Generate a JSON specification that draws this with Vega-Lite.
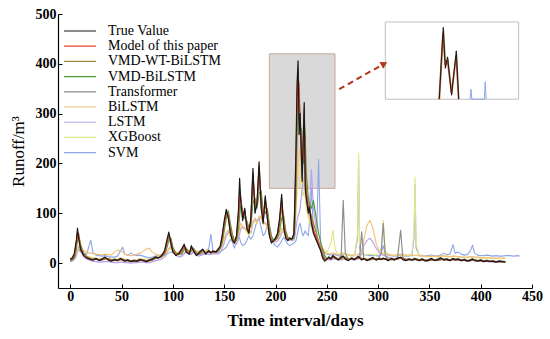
{
  "$schema": "https://vega.github.io/schema/vega-lite/v6.json",
  "width": 474,
  "height": 274,
  "autosize": {"type": "none"},
  "padding": {"left": 58, "top": 14, "right": 18, "bottom": 51},
  "background": "white",
  "config": {
    "view": {"stroke": null},
    "font": "Liberation Serif",
    "axis": {"domainColor": "#000", "tickColor": "#000", "labelColor": "#000", "titleColor": "#000", "grid": false, "labelFont": "Liberation Serif", "titleFont": "Liberation Serif", "domainWidth": 1.2, "tickWidth": 1}
  },
  "datasets": {
    "boxes": [{"t": 194, "t2": 258, "v": 150, "v2": 420}],
    "insetbox": [{"t": 307, "t2": 437, "v": 329, "v2": 484}],
    "arrow": [{"t": 262, "v": 349, "t2": 304, "v2": 398}],
    "head": [{"t": 306, "v": 400}],
    "inset": [
      {"series": "W", "t": 360.1, "v": 329}, {"series": "W", "t": 363.9, "v": 466}, {"series": "W", "t": 366, "v": 395}, {"series": "W", "t": 368.1, "v": 410}, {"series": "W", "t": 372, "v": 340}, {"series": "W", "t": 376.6, "v": 420}, {"series": "W", "t": 378.9, "v": 329},
      {"series": "M", "t": 359.2, "v": 329}, {"series": "M", "t": 362.9, "v": 462}, {"series": "M", "t": 365.1, "v": 398}, {"series": "M", "t": 367.3, "v": 408}, {"series": "M", "t": 371.2, "v": 342}, {"series": "M", "t": 375.8, "v": 416}, {"series": "M", "t": 378.2, "v": 329},
      {"series": "T", "t": 359.6, "v": 329}, {"series": "T", "t": 363.5, "v": 473}, {"series": "T", "t": 365.5, "v": 391}, {"series": "T", "t": 367.7, "v": 414}, {"series": "T", "t": 371.6, "v": 337}, {"series": "T", "t": 376.2, "v": 426}, {"series": "T", "t": 378.5, "v": 329},
      {"series": "S", "t": 389.6, "v": 329}, {"series": "S", "t": 390.5, "v": 349}, {"series": "S", "t": 391.4, "v": 329}, {"series": "S", "t": 403.5, "v": 329}, {"series": "S", "t": 404.4, "v": 364}, {"series": "S", "t": 405.3, "v": 329}
    ],
    "main": [
      {"t":0,"T":8,"M":6,"W":5,"V":4,"Tr":7,"B":5,"L":2,"X":3,"S":5},
      {"t":2,"T":10,"M":9,"W":8,"V":6,"Tr":12,"B":8,"L":4,"X":6,"S":6},
      {"t":4,"T":20,"M":16,"W":14,"V":10,"Tr":18,"B":14,"L":8,"X":10,"S":18},
      {"t":6,"T":48,"M":40,"W":38,"V":30,"Tr":42,"B":22,"L":15,"X":20,"S":22},
      {"t":7,"T":70,"M":62,"W":55,"V":45,"Tr":60,"B":26,"L":22,"X":28,"S":24},
      {"t":8,"T":52,"M":58,"W":60,"V":55,"Tr":50,"B":30,"L":32,"X":35,"S":28},
      {"t":10,"T":28,"M":30,"W":35,"V":38,"Tr":26,"B":28,"L":25,"X":26,"S":22},
      {"t":13,"T":15,"M":17,"W":18,"V":20,"Tr":16,"B":25,"L":12,"X":18,"S":20},
      {"t":16,"T":10,"M":12,"W":12,"V":13,"Tr":11,"B":22,"L":8,"X":14,"S":18},
      {"t":19,"T":8,"M":9,"W":9,"V":10,"Tr":9,"B":20,"L":6,"X":12,"S":40},
      {"t":20,"T":7,"M":8,"W":8,"V":9,"Tr":8,"B":20,"L":5,"X":12,"S":46},
      {"t":22,"T":6,"M":7,"W":7,"V":8,"Tr":7,"B":19,"L":4,"X":11,"S":22},
      {"t":25,"T":9,"M":8,"W":9,"V":8,"Tr":10,"B":18,"L":3,"X":10,"S":16},
      {"t":28,"T":5,"M":6,"W":7,"V":7,"Tr":6,"B":17,"L":2,"X":9,"S":15},
      {"t":31,"T":8,"M":7,"W":6,"V":7,"Tr":9,"B":17,"L":2,"X":9,"S":14},
      {"t":34,"T":12,"M":10,"W":9,"V":8,"Tr":11,"B":18,"L":3,"X":10,"S":15},
      {"t":37,"T":6,"M":8,"W":9,"V":9,"Tr":7,"B":17,"L":3,"X":9,"S":13},
      {"t":40,"T":4,"M":5,"W":6,"V":6,"Tr":5,"B":16,"L":2,"X":8,"S":12},
      {"t":43,"T":7,"M":6,"W":5,"V":6,"Tr":8,"B":22,"L":1,"X":8,"S":12},
      {"t":46,"T":5,"M":6,"W":6,"V":5,"Tr":6,"B":26,"L":1,"X":9,"S":14},
      {"t":49,"T":9,"M":7,"W":7,"V":7,"Tr":10,"B":25,"L":2,"X":10,"S":25},
      {"t":51,"T":6,"M":8,"W":8,"V":7,"Tr":7,"B":22,"L":2,"X":9,"S":32},
      {"t":53,"T":4,"M":5,"W":6,"V":6,"Tr":5,"B":18,"L":1,"X":8,"S":18},
      {"t":56,"T":6,"M":5,"W":5,"V":5,"Tr":7,"B":16,"L":1,"X":7,"S":16},
      {"t":59,"T":3,"M":4,"W":4,"V":4,"Tr":4,"B":15,"L":0,"X":6,"S":20},
      {"t":62,"T":5,"M":4,"W":5,"V":5,"Tr":6,"B":16,"L":1,"X":6,"S":17},
      {"t":65,"T":4,"M":5,"W":4,"V":4,"Tr":5,"B":18,"L":1,"X":7,"S":15},
      {"t":68,"T":7,"M":6,"W":6,"V":5,"Tr":8,"B":20,"L":2,"X":8,"S":16},
      {"t":71,"T":5,"M":6,"W":6,"V":6,"Tr":6,"B":24,"L":2,"X":8,"S":14},
      {"t":74,"T":3,"M":4,"W":5,"V":5,"Tr":4,"B":28,"L":1,"X":8,"S":12},
      {"t":77,"T":6,"M":5,"W":5,"V":5,"Tr":7,"B":30,"L":1,"X":8,"S":11},
      {"t":80,"T":8,"M":7,"W":7,"V":6,"Tr":9,"B":22,"L":3,"X":10,"S":12},
      {"t":83,"T":12,"M":11,"W":10,"V":9,"Tr":13,"B":18,"L":5,"X":12,"S":14},
      {"t":86,"T":10,"M":11,"W":11,"V":11,"Tr":11,"B":16,"L":6,"X":13,"S":15},
      {"t":89,"T":15,"M":14,"W":13,"V":12,"Tr":16,"B":16,"L":8,"X":15,"S":17},
      {"t":92,"T":25,"M":22,"W":20,"V":18,"Tr":24,"B":18,"L":12,"X":18,"S":16},
      {"t":94,"T":45,"M":40,"W":35,"V":30,"Tr":42,"B":22,"L":18,"X":24,"S":18},
      {"t":96,"T":62,"M":58,"W":52,"V":45,"Tr":55,"B":28,"L":28,"X":30,"S":20},
      {"t":98,"T":40,"M":45,"W":48,"V":50,"Tr":38,"B":30,"L":35,"X":32,"S":22},
      {"t":100,"T":22,"M":25,"W":28,"V":32,"Tr":22,"B":26,"L":25,"X":25,"S":24},
      {"t":103,"T":15,"M":16,"W":18,"V":20,"Tr":16,"B":22,"L":15,"X":20,"S":20},
      {"t":106,"T":20,"M":18,"W":17,"V":17,"Tr":22,"B":20,"L":12,"X":18,"S":18},
      {"t":109,"T":30,"M":27,"W":24,"V":20,"Tr":28,"B":22,"L":14,"X":20,"S":16},
      {"t":111,"T":38,"M":34,"W":32,"V":28,"Tr":36,"B":26,"L":20,"X":24,"S":18},
      {"t":113,"T":22,"M":26,"W":28,"V":30,"Tr":24,"B":28,"L":24,"X":26,"S":22},
      {"t":116,"T":18,"M":18,"W":20,"V":22,"Tr":19,"B":24,"L":18,"X":22,"S":20},
      {"t":118,"T":35,"M":30,"W":28,"V":24,"Tr":33,"B":25,"L":18,"X":24,"S":18},
      {"t":120,"T":24,"M":27,"W":28,"V":30,"Tr":25,"B":27,"L":22,"X":26,"S":24},
      {"t":123,"T":15,"M":17,"W":18,"V":20,"Tr":16,"B":24,"L":16,"X":22,"S":20},
      {"t":126,"T":22,"M":20,"W":19,"V":18,"Tr":24,"B":22,"L":14,"X":20,"S":17},
      {"t":129,"T":28,"M":26,"W":25,"V":23,"Tr":27,"B":24,"L":17,"X":22,"S":19},
      {"t":132,"T":18,"M":20,"W":21,"V":22,"Tr":19,"B":26,"L":19,"X":24,"S":22},
      {"t":135,"T":25,"M":23,"W":22,"V":21,"Tr":26,"B":24,"L":17,"X":22,"S":30},
      {"t":137,"T":20,"M":22,"W":23,"V":23,"Tr":21,"B":23,"L":18,"X":22,"S":58},
      {"t":139,"T":24,"M":22,"W":21,"V":22,"Tr":25,"B":22,"L":18,"X":21,"S":25},
      {"t":142,"T":22,"M":23,"W":22,"V":22,"Tr":23,"B":24,"L":19,"X":22,"S":20},
      {"t":144,"T":28,"M":26,"W":25,"V":23,"Tr":28,"B":26,"L":20,"X":25,"S":18},
      {"t":146,"T":33,"M":31,"W":30,"V":28,"Tr":32,"B":30,"L":22,"X":28,"S":22},
      {"t":148,"T":55,"M":50,"W":45,"V":40,"Tr":52,"B":38,"L":28,"X":35,"S":25},
      {"t":150,"T":85,"M":78,"W":72,"V":65,"Tr":80,"B":50,"L":40,"X":48,"S":28},
      {"t":152,"T":108,"M":100,"W":98,"V":90,"Tr":102,"B":62,"L":55,"X":58,"S":32},
      {"t":154,"T":90,"M":95,"W":100,"V":105,"Tr":92,"B":66,"L":62,"X":60,"S":40},
      {"t":156,"T":60,"M":65,"W":72,"V":80,"Tr":62,"B":58,"L":58,"X":52,"S":48},
      {"t":158,"T":45,"M":48,"W":52,"V":58,"Tr":46,"B":48,"L":48,"X":44,"S":42},
      {"t":160,"T":40,"M":42,"W":44,"V":46,"Tr":41,"B":42,"L":40,"X":40,"S":30},
      {"t":162,"T":55,"M":52,"W":48,"V":45,"Tr":54,"B":44,"L":38,"X":42,"S":45},
      {"t":164,"T":110,"M":95,"W":85,"V":70,"Tr":100,"B":60,"L":48,"X":58,"S":53},
      {"t":165,"T":170,"M":140,"W":120,"V":95,"Tr":150,"B":72,"L":58,"X":70,"S":50},
      {"t":166,"T":130,"M":135,"W":130,"V":115,"Tr":125,"B":80,"L":68,"X":78,"S":42},
      {"t":168,"T":85,"M":95,"W":100,"V":105,"Tr":88,"B":74,"L":72,"X":70,"S":35},
      {"t":170,"T":110,"M":105,"W":98,"V":90,"Tr":108,"B":70,"L":70,"X":68,"S":38},
      {"t":172,"T":70,"M":78,"W":82,"V":85,"Tr":72,"B":64,"L":66,"X":62,"S":45},
      {"t":174,"T":60,"M":62,"W":66,"V":72,"Tr":61,"B":58,"L":60,"X":56,"S":55},
      {"t":176,"T":90,"M":85,"W":80,"V":75,"Tr":88,"B":62,"L":62,"X":60,"S":48},
      {"t":178,"T":190,"M":180,"W":160,"V":120,"Tr":175,"B":85,"L":80,"X":82,"S":55},
      {"t":180,"T":100,"M":115,"W":125,"V":130,"Tr":105,"B":88,"L":90,"X":85,"S":70},
      {"t":182,"T":120,"M":118,"W":115,"V":110,"Tr":120,"B":80,"L":85,"X":80,"S":85},
      {"t":184,"T":203,"M":195,"W":175,"V":140,"Tr":190,"B":95,"L":88,"X":92,"S":90},
      {"t":186,"T":110,"M":125,"W":135,"V":145,"Tr":115,"B":92,"L":92,"X":90,"S":70},
      {"t":188,"T":80,"M":88,"W":95,"V":105,"Tr":82,"B":78,"L":85,"X":78,"S":55},
      {"t":190,"T":135,"M":128,"W":115,"V":100,"Tr":130,"B":80,"L":80,"X":80,"S":60},
      {"t":192,"T":90,"M":98,"W":105,"V":110,"Tr":92,"B":74,"L":78,"X":72,"S":75},
      {"t":194,"T":55,"M":62,"W":70,"V":78,"Tr":57,"B":60,"L":66,"X":60,"S":62},
      {"t":196,"T":40,"M":44,"W":48,"V":55,"Tr":42,"B":50,"L":52,"X":50,"S":50},
      {"t":198,"T":45,"M":44,"W":44,"V":46,"Tr":46,"B":46,"L":45,"X":46,"S":40},
      {"t":200,"T":50,"M":48,"W":47,"V":46,"Tr":51,"B":46,"L":42,"X":46,"S":35},
      {"t":202,"T":60,"M":57,"W":54,"V":50,"Tr":60,"B":50,"L":44,"X":50,"S":32},
      {"t":204,"T":90,"M":82,"W":75,"V":65,"Tr":85,"B":58,"L":50,"X":56,"S":38},
      {"t":206,"T":138,"M":125,"W":110,"V":90,"Tr":130,"B":70,"L":60,"X":66,"S":45},
      {"t":208,"T":70,"M":80,"W":88,"V":95,"Tr":74,"B":66,"L":64,"X":62,"S":52},
      {"t":210,"T":50,"M":54,"W":58,"V":65,"Tr":52,"B":56,"L":58,"X":52,"S":45},
      {"t":212,"T":45,"M":46,"W":48,"V":52,"Tr":46,"B":50,"L":50,"X":48,"S":38},
      {"t":214,"T":50,"M":48,"W":47,"V":48,"Tr":51,"B":48,"L":46,"X":46,"S":35},
      {"t":216,"T":48,"M":49,"W":49,"V":48,"Tr":49,"B":48,"L":45,"X":46,"S":38},
      {"t":218,"T":60,"M":56,"W":54,"V":50,"Tr":58,"B":52,"L":46,"X":50,"S":40},
      {"t":219,"T":140,"M":120,"W":110,"V":80,"Tr":130,"B":70,"L":55,"X":65,"S":42},
      {"t":220,"T":230,"M":200,"W":185,"V":140,"Tr":215,"B":110,"L":70,"X":100,"S":45},
      {"t":221,"T":360,"M":330,"W":310,"V":250,"Tr":340,"B":160,"L":85,"X":150,"S":55},
      {"t":222,"T":406,"M":370,"W":390,"V":330,"Tr":385,"B":200,"L":95,"X":190,"S":65},
      {"t":223,"T":258,"M":360,"W":330,"V":350,"Tr":280,"B":220,"L":100,"X":200,"S":75},
      {"t":224,"T":300,"M":275,"W":290,"V":260,"Tr":295,"B":230,"L":110,"X":180,"S":80},
      {"t":225,"T":230,"M":250,"W":250,"V":270,"Tr":235,"B":200,"L":130,"X":160,"S":70},
      {"t":226,"T":164,"M":190,"W":195,"V":220,"Tr":170,"B":170,"L":150,"X":140,"S":60},
      {"t":227,"T":250,"M":230,"W":215,"V":200,"Tr":245,"B":160,"L":165,"X":135,"S":55},
      {"t":228,"T":322,"M":300,"W":310,"V":280,"Tr":315,"B":170,"L":170,"X":150,"S":60},
      {"t":229,"T":150,"M":175,"W":200,"V":250,"Tr":160,"B":150,"L":160,"X":130,"S":65},
      {"t":230,"T":130,"M":140,"W":150,"V":180,"Tr":135,"B":125,"L":140,"X":110,"S":60},
      {"t":232,"T":100,"M":110,"W":118,"V":130,"Tr":105,"B":100,"L":120,"X":90,"S":55},
      {"t":233,"T":113,"M":108,"W":110,"V":120,"Tr":112,"B":90,"L":110,"X":85,"S":80},
      {"t":235,"T":80,"M":88,"W":95,"V":110,"Tr":85,"B":75,"L":187,"X":70,"S":150},
      {"t":237,"T":60,"M":68,"W":80,"V":126,"Tr":64,"B":60,"L":110,"X":60,"S":60},
      {"t":240,"T":45,"M":50,"W":58,"V":85,"Tr":48,"B":48,"L":60,"X":48,"S":45},
      {"t":242,"T":35,"M":38,"W":42,"V":60,"Tr":36,"B":40,"L":45,"X":40,"S":208},
      {"t":244,"T":25,"M":28,"W":32,"V":42,"Tr":27,"B":34,"L":35,"X":35,"S":40},
      {"t":246,"T":10,"M":14,"W":18,"V":28,"Tr":12,"B":28,"L":22,"X":30,"S":25},
      {"t":248,"T":4,"M":6,"W":8,"V":15,"Tr":5,"B":22,"L":12,"X":25,"S":20},
      {"t":250,"T":8,"M":7,"W":7,"V":9,"Tr":9,"B":20,"L":8,"X":22,"S":18},
      {"t":252,"T":12,"M":11,"W":10,"V":9,"Tr":13,"B":19,"L":7,"X":30,"S":17},
      {"t":254,"T":8,"M":9,"W":10,"V":10,"Tr":9,"B":18,"L":6,"X":40,"S":16},
      {"t":256,"T":15,"M":13,"W":12,"V":11,"Tr":16,"B":20,"L":8,"X":66,"S":18},
      {"t":258,"T":10,"M":11,"W":12,"V":12,"Tr":11,"B":19,"L":9,"X":28,"S":17},
      {"t":261,"T":6,"M":7,"W":8,"V":9,"Tr":7,"B":17,"L":7,"X":18,"S":15},
      {"t":264,"T":12,"M":10,"W":9,"V":8,"Tr":14,"B":18,"L":6,"X":16,"S":14},
      {"t":266,"T":14,"M":13,"W":12,"V":11,"Tr":126,"B":20,"L":8,"X":18,"S":16},
      {"t":268,"T":8,"M":10,"W":11,"V":12,"Tr":20,"B":19,"L":9,"X":17,"S":18},
      {"t":271,"T":5,"M":6,"W":7,"V":8,"Tr":7,"B":17,"L":8,"X":15,"S":16},
      {"t":274,"T":10,"M":9,"W":8,"V":8,"Tr":11,"B":16,"L":7,"X":14,"S":15},
      {"t":277,"T":7,"M":8,"W":9,"V":9,"Tr":8,"B":16,"L":6,"X":15,"S":15},
      {"t":280,"T":12,"M":11,"W":10,"V":9,"Tr":14,"B":17,"L":8,"X":60,"S":50},
      {"t":281,"T":13,"M":12,"W":11,"V":10,"Tr":14,"B":18,"L":9,"X":221,"S":207},
      {"t":282,"T":10,"M":11,"W":12,"V":11,"Tr":12,"B":18,"L":10,"X":40,"S":30},
      {"t":284,"T":6,"M":8,"W":9,"V":10,"Tr":63,"B":24,"L":20,"X":20,"S":18},
      {"t":286,"T":9,"M":8,"W":8,"V":9,"Tr":10,"B":45,"L":35,"X":18,"S":17},
      {"t":289,"T":5,"M":6,"W":7,"V":8,"Tr":6,"B":75,"L":45,"X":17,"S":16},
      {"t":292,"T":8,"M":7,"W":7,"V":7,"Tr":9,"B":86,"L":50,"X":18,"S":15},
      {"t":295,"T":11,"M":10,"W":9,"V":8,"Tr":12,"B":70,"L":42,"X":17,"S":16},
      {"t":298,"T":6,"M":7,"W":8,"V":9,"Tr":7,"B":40,"L":30,"X":16,"S":15},
      {"t":301,"T":9,"M":8,"W":8,"V":8,"Tr":10,"B":25,"L":22,"X":20,"S":14},
      {"t":303,"T":7,"M":8,"W":8,"V":8,"Tr":20,"B":22,"L":18,"X":30,"S":20},
      {"t":305,"T":10,"M":9,"W":9,"V":8,"Tr":80,"B":20,"L":16,"X":86,"S":35},
      {"t":307,"T":8,"M":9,"W":9,"V":9,"Tr":15,"B":19,"L":14,"X":25,"S":18},
      {"t":310,"T":5,"M":6,"W":7,"V":8,"Tr":6,"B":17,"L":12,"X":18,"S":16},
      {"t":313,"T":9,"M":8,"W":7,"V":7,"Tr":10,"B":16,"L":10,"X":16,"S":15},
      {"t":316,"T":6,"M":7,"W":8,"V":8,"Tr":7,"B":16,"L":9,"X":15,"S":14},
      {"t":319,"T":10,"M":9,"W":9,"V":8,"Tr":12,"B":17,"L":10,"X":16,"S":15},
      {"t":322,"T":12,"M":11,"W":10,"V":10,"Tr":66,"B":18,"L":11,"X":17,"S":16},
      {"t":324,"T":7,"M":9,"W":10,"V":10,"Tr":12,"B":18,"L":10,"X":16,"S":15},
      {"t":327,"T":5,"M":6,"W":7,"V":8,"Tr":6,"B":16,"L":8,"X":15,"S":14},
      {"t":330,"T":8,"M":7,"W":7,"V":7,"Tr":9,"B":16,"L":7,"X":15,"S":14},
      {"t":333,"T":6,"M":7,"W":7,"V":7,"Tr":7,"B":15,"L":7,"X":20,"S":16},
      {"t":335,"T":8,"M":7,"W":7,"V":7,"Tr":9,"B":15,"L":7,"X":60,"S":50},
      {"t":336,"T":9,"M":8,"W":8,"V":7,"Tr":10,"B":16,"L":8,"X":172,"S":157},
      {"t":337,"T":7,"M":8,"W":8,"V":8,"Tr":8,"B":16,"L":8,"X":40,"S":30},
      {"t":340,"T":5,"M":6,"W":7,"V":7,"Tr":6,"B":15,"L":7,"X":15,"S":16},
      {"t":343,"T":8,"M":7,"W":6,"V":6,"Tr":9,"B":14,"L":6,"X":14,"S":15},
      {"t":346,"T":4,"M":5,"W":6,"V":6,"Tr":5,"B":14,"L":6,"X":13,"S":14},
      {"t":349,"T":6,"M":5,"W":5,"V":5,"Tr":7,"B":13,"L":5,"X":13,"S":15},
      {"t":352,"T":9,"M":8,"W":7,"V":6,"Tr":10,"B":14,"L":6,"X":14,"S":16},
      {"t":355,"T":5,"M":6,"W":7,"V":7,"Tr":6,"B":14,"L":6,"X":13,"S":15},
      {"t":358,"T":7,"M":6,"W":6,"V":6,"Tr":8,"B":13,"L":5,"X":12,"S":14},
      {"t":361,"T":10,"M":9,"W":8,"V":7,"Tr":11,"B":14,"L":6,"X":13,"S":16},
      {"t":364,"T":6,"M":7,"W":8,"V":8,"Tr":7,"B":15,"L":7,"X":14,"S":20},
      {"t":367,"T":8,"M":7,"W":7,"V":7,"Tr":9,"B":14,"L":6,"X":13,"S":17},
      {"t":370,"T":5,"M":6,"W":6,"V":6,"Tr":6,"B":13,"L":5,"X":12,"S":18},
      {"t":373,"T":9,"M":8,"W":7,"V":7,"Tr":10,"B":14,"L":6,"X":14,"S":37},
      {"t":375,"T":6,"M":7,"W":8,"V":8,"Tr":7,"B":14,"L":7,"X":13,"S":20},
      {"t":378,"T":8,"M":7,"W":7,"V":7,"Tr":9,"B":13,"L":6,"X":12,"S":22},
      {"t":381,"T":5,"M":6,"W":6,"V":6,"Tr":6,"B":12,"L":5,"X":12,"S":18},
      {"t":384,"T":7,"M":6,"W":6,"V":6,"Tr":8,"B":12,"L":5,"X":11,"S":16},
      {"t":387,"T":4,"M":5,"W":5,"V":5,"Tr":5,"B":12,"L":4,"X":11,"S":17},
      {"t":390,"T":6,"M":5,"W":5,"V":5,"Tr":7,"B":13,"L":5,"X":12,"S":25},
      {"t":392,"T":8,"M":7,"W":6,"V":6,"Tr":9,"B":13,"L":6,"X":12,"S":36},
      {"t":394,"T":5,"M":6,"W":7,"V":7,"Tr":6,"B":12,"L":5,"X":11,"S":20},
      {"t":397,"T":4,"M":5,"W":5,"V":5,"Tr":5,"B":12,"L":4,"X":11,"S":16},
      {"t":400,"T":6,"M":5,"W":5,"V":5,"Tr":7,"B":11,"L":4,"X":10,"S":15},
      {"t":403,"T":3,"M":4,"W":4,"V":4,"Tr":4,"B":11,"L":3,"X":10,"S":15},
      {"t":406,"T":5,"M":4,"W":4,"V":4,"Tr":6,"B":11,"L":3,"X":10,"S":16},
      {"t":409,"T":3,"M":4,"W":4,"V":4,"Tr":4,"B":10,"L":3,"X":10,"S":15},
      {"t":412,"T":4,"M":3,"W":3,"V":3,"Tr":5,"B":10,"L":3,"X":9,"S":14},
      {"t":415,"T":2,"M":3,"W":3,"V":3,"Tr":3,"B":10,"L":2,"X":9,"S":15},
      {"t":418,"T":4,"M":3,"W":3,"V":3,"Tr":5,"B":10,"L":2,"X":9,"S":14},
      {"t":421,"T":3,"M":3,"W":3,"V":3,"Tr":4,"B":10,"L":2,"X":9,"S":14},
      {"t":424,"T":2,"M":3,"W":3,"V":3,"Tr":3,"B":10,"L":2,"X":9,"S":15},
      {"t":428,"S":15},
      {"t":432,"S":14},
      {"t":436,"S":15},
      {"t":438,"S":14}
    ]
  },
  "layer": [
    {
      "data": {"name": "boxes"},
      "mark": {"type": "rect", "fill": "#d9d9d9", "stroke": "#c9a699", "strokeWidth": 1},
      "encoding": {
        "x": {"field": "t", "type": "quantitative", "scale": {"domain": [-12, 450], "nice": false, "zero": false}},
        "x2": {"field": "t2"},
        "y": {"field": "v", "type": "quantitative", "scale": {"domain": [-50, 500], "nice": false, "zero": false}},
        "y2": {"field": "v2"}
      }
    },
    {
      "data": {"name": "main"},
      "transform": [
        {"fold": ["S", "X", "L", "B", "Tr", "V", "W", "M", "T"], "as": ["series", "v"]},
        {"filter": "isValid(datum.v)"}
      ],
      "mark": {"type": "line", "strokeJoin": "round", "clip": true},
      "encoding": {
        "x": {
          "field": "t", "type": "quantitative",
          "scale": {"domain": [-12, 450], "nice": false, "zero": false},
          "axis": {
            "title": "Time interval/days",
            "values": [0, 25, 50, 75, 100, 125, 150, 175, 200, 225, 250, 275, 300, 325, 350, 375, 400, 425, 450],
            "labelExpr": "datum.value % 50 === 0 ? datum.label : ''",
            "labelFontWeight": "bold", "labelFontSize": 14, "labelFlush": false, "labelOverlap": false,
            "tickSize": -4, "labelPadding": 5,
            "titleFontSize": 17, "titleFontWeight": "bold", "titlePadding": 9
          }
        },
        "y": {
          "field": "v", "type": "quantitative",
          "scale": {"domain": [-50, 500], "nice": false, "zero": false},
          "axis": {
            "title": "Runoff/m³",
            "values": [0, 50, 100, 150, 200, 250, 300, 350, 400, 450, 500],
            "labelExpr": "datum.value % 100 === 0 ? datum.label : ''",
            "labelFontWeight": "bold", "labelFontSize": 14, "labelOverlap": false, "labelFlush": false,
            "tickSize": -4, "labelPadding": 6,
            "titleFontSize": 17, "titleFontWeight": "normal", "titlePadding": 8
          }
        },
        "color": {
          "field": "series", "type": "nominal",
          "scale": {
            "domain": ["T", "M", "W", "V", "Tr", "B", "L", "X", "S"],
            "range": ["#1a1a1a", "#e8452c", "#9a8a3a", "#4f9a3a", "#8c8c8c", "#f3c27a", "#b9a0ea", "#e2e68a", "#8fa6e8"]
          },
          "legend": {
            "title": null, "orient": "none", "legendX": 15, "legendY": 10, "padding": 0,
            "symbolType": "M-5,0H5", "symbolSize": 41, "symbolStrokeWidth": 1.5,
            "labelFont": "Liberation Serif", "labelFontSize": 14, "labelColor": "#000", "labelOffset": 21, "rowPadding": 1.2,
            "labelExpr": "datum.label == 'T' ? 'True Value' : datum.label == 'M' ? 'Model of this paper' : datum.label == 'W' ? 'VMD-WT-BiLSTM' : datum.label == 'V' ? 'VMD-BiLSTM' : datum.label == 'Tr' ? 'Transformer' : datum.label == 'B' ? 'BiLSTM' : datum.label == 'L' ? 'LSTM' : datum.label == 'X' ? 'XGBoost' : 'SVM'"
          }
        },
        "strokeWidth": {
          "field": "series", "type": "ordinal",
          "scale": {"domain": ["T", "M", "W", "V", "Tr", "B", "L", "X", "S"], "range": [1.2, 1.1, 1.2, 1.2, 1, 1, 1, 1, 1]},
          "legend": null
        }
      }
    },
    {
      "data": {"name": "insetbox"},
      "mark": {"type": "rect", "fill": "#ffffff", "stroke": "#c0c0c0", "strokeWidth": 1},
      "encoding": {
        "x": {"field": "t", "type": "quantitative"},
        "x2": {"field": "t2"},
        "y": {"field": "v", "type": "quantitative"},
        "y2": {"field": "v2"}
      }
    },
    {
      "data": {"name": "inset"},
      "mark": {"type": "line", "strokeWidth": 1},
      "encoding": {
        "x": {"field": "t", "type": "quantitative"},
        "y": {"field": "v", "type": "quantitative"},
        "color": {"field": "series", "type": "nominal"}
      }
    },
    {
      "data": {"name": "arrow"},
      "mark": {"type": "rule", "color": "#b5351f", "strokeWidth": 2, "strokeDash": [6, 4]},
      "encoding": {
        "x": {"field": "t", "type": "quantitative"},
        "y": {"field": "v", "type": "quantitative"},
        "x2": {"field": "t2"},
        "y2": {"field": "v2"}
      }
    },
    {
      "data": {"name": "head"},
      "mark": {"type": "point", "shape": "triangle-right", "filled": true, "color": "#b5351f", "size": 60, "angle": -29, "opacity": 1},
      "encoding": {
        "x": {"field": "t", "type": "quantitative"},
        "y": {"field": "v", "type": "quantitative"}
      }
    }
  ]
}
